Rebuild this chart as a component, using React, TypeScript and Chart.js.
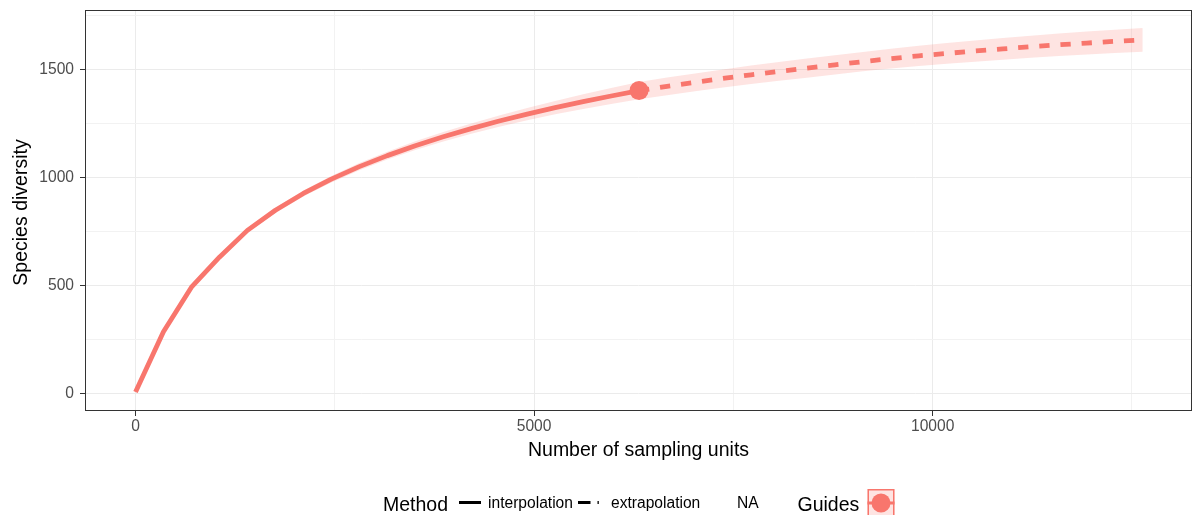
import { useEffect, useRef } from 'react';
import { Chart, registerables } from 'chart.js';

Chart.register(...registerables);

// Rarefaction (interpolated) part of the curve
const interpUnits = [1, 351, 702, 1053, 1404, 1755, 2106, 2457, 2808, 3159, 3510, 3861, 4212, 4563, 4914, 5265, 5616, 5967, 6317];
const interpDiversity = [6, 285, 491, 630, 754, 847, 925, 991, 1049, 1100, 1146, 1187, 1225, 1260, 1292, 1322, 1350, 1376, 1401];
const interpLower = [6, 280, 484, 621, 743, 835, 911, 976, 1032, 1082, 1126, 1165, 1201, 1234, 1264, 1291, 1316, 1339, 1361];
const interpUpper = [6, 290, 498, 639, 765, 859, 939, 1006, 1066, 1118, 1166, 1209, 1249, 1286, 1320, 1353, 1384, 1413, 1441];

// Extrapolated part of the curve, out to twice the observed sampling effort
const extrapUnits = [6317, 6668, 7019, 7370, 7721, 8072, 8423, 8774, 9125, 9476, 9827, 10178, 10529, 10880, 11231, 11582, 11933, 12284, 12635];
const extrapDiversity = [1401, 1421, 1439, 1457, 1474, 1490, 1505, 1520, 1535, 1549, 1562, 1573, 1584, 1594, 1604, 1613, 1621, 1629, 1636];
const extrapLower = [1361, 1380, 1398, 1415, 1431, 1447, 1461, 1475, 1490, 1503, 1515, 1525, 1535, 1544, 1553, 1561, 1568, 1575, 1581];
const extrapUpper = [1441, 1462, 1480, 1499, 1517, 1533, 1549, 1565, 1580, 1595, 1609, 1621, 1633, 1644, 1655, 1665, 1674, 1683, 1691];

// Observed reference sample
const observedUnits = 6317;
const observedDiversity = 1401;

// Grid / tick values
const xGridValues = [0, 2500, 5000, 7500, 10000, 12500];
const xLabelValues = [0, 5000, 10000];
const yGridValues = [0, 250, 500, 750, 1000, 1250, 1500, 1750];
const yLabelValues = [0, 500, 1000, 1500];

const xTitle = 'Number of sampling units';
const yTitle = 'Species diversity';
const methodTitle = 'Method';
const methodLabels = ['interpolation', 'extrapolation', 'NA'];
const guidesTitle = 'Guides';

const RED = '#F8766D';
const RIBBON = 'rgba(248,118,109,0.2)';
const FONT = '"Liberation Sans", Arial, Helvetica, sans-serif';

const pts = (xs: number[], ys: number[]) => xs.map((x, i) => ({ x, y: ys[i] }));

const decorations = {
  id: 'decorations',
  afterDraw(chart: any) {
    const { ctx, chartArea: a } = chart;
    ctx.save();

    // panel border
    ctx.strokeStyle = '#333333';
    ctx.lineWidth = 1;
    ctx.strokeRect(a.left + 0.5, a.top + 0.5, a.right - a.left - 1, a.bottom - a.top - 1);

    // axis titles
    ctx.fillStyle = '#000000';
    ctx.font = `19.5px ${FONT}`;
    ctx.textAlign = 'center';
    ctx.textBaseline = 'alphabetic';
    ctx.fillText(xTitle, (a.left + a.right) / 2, 456);
    ctx.save();
    ctx.translate(27, (a.top + a.bottom) / 2 + 2);
    ctx.rotate(-Math.PI / 2);
    ctx.fillText(yTitle, 0, 0);
    ctx.restore();

    // legend: Method
    ctx.textAlign = 'left';
    ctx.font = `19.5px ${FONT}`;
    ctx.fillText(methodTitle, 383, 511);
    ctx.fillStyle = '#000000';
    ctx.fillRect(459, 501, 22, 3);
    ctx.fillRect(578, 501, 12.5, 3);
    ctx.fillRect(597.5, 501, 1.3, 3);
    ctx.font = `15.6px ${FONT}`;
    ctx.fillText(methodLabels[0], 488, 508);
    ctx.fillText(methodLabels[1], 611, 508);
    ctx.fillText(methodLabels[2], 737, 508);

    // legend: Guides
    ctx.font = `19.5px ${FONT}`;
    ctx.fillText(guidesTitle, 797.5, 511);
    ctx.fillStyle = RIBBON;
    ctx.fillRect(867.5, 489, 27, 28);
    ctx.strokeStyle = RED;
    ctx.lineWidth = 1.5;
    ctx.strokeRect(868.25, 489.75, 25.5, 27);
    ctx.fillStyle = RED;
    ctx.fillRect(867.5, 501.5, 27, 3);
    ctx.beginPath();
    ctx.arc(881, 503, 9.5, 0, Math.PI * 2);
    ctx.fill();

    ctx.restore();
  },
};

export default function App() {
  const canvasRef = useRef<HTMLCanvasElement | null>(null);

  useEffect(() => {
    const canvas = canvasRef.current;
    if (!canvas) return;

    const ribbonLower = [...pts(interpUnits, interpLower), ...pts(extrapUnits, extrapLower).slice(1)];
    const ribbonUpper = [...pts(interpUnits, interpUpper), ...pts(extrapUnits, extrapUpper).slice(1)];

    const chart = new Chart(canvas, {
      type: 'line',
      data: {
        datasets: [
          {
            label: 'observed',
            data: [{ x: observedUnits, y: observedDiversity }],
            showLine: false,
            pointRadius: 9.5,
            pointBackgroundColor: RED,
            pointBorderWidth: 0,
            borderColor: RED,
            order: 0,
          },
          {
            label: 'interpolation',
            data: pts(interpUnits, interpDiversity),
            borderColor: RED,
            borderWidth: 4.8,
            borderJoinStyle: 'round',
            pointRadius: 0,
            tension: 0,
            fill: false,
            order: 1,
          },
          {
            label: 'extrapolation',
            data: pts(extrapUnits, extrapDiversity),
            borderColor: RED,
            borderWidth: 4.8,
            borderDash: [10.3, 10.9],
            borderJoinStyle: 'round',
            pointRadius: 0,
            tension: 0,
            fill: false,
            order: 1,
          },
          {
            label: 'lower',
            data: ribbonLower,
            borderWidth: 0,
            borderColor: 'rgba(0,0,0,0)',
            pointRadius: 0,
            tension: 0,
            fill: false,
            order: 2,
          },
          {
            label: 'upper',
            data: ribbonUpper,
            borderWidth: 0,
            borderColor: 'rgba(0,0,0,0)',
            backgroundColor: RIBBON,
            pointRadius: 0,
            tension: 0,
            fill: '-1',
            order: 2,
          },
        ],
      },
      options: {
        responsive: false,
        animation: false,
        events: [],
        layout: { autoPadding: false, padding: { top: 10, right: 1, left: 0, bottom: 0 } },
        plugins: {
          legend: { display: false },
          tooltip: { enabled: false },
        },
        scales: {
          x: {
            type: 'linear',
            min: -633,
            max: 13253,
            afterFit: (scale: any) => {
              scale.height = 104;
              scale.paddingLeft = 0;
              scale.paddingRight = 0;
              scale.paddingTop = 0;
              scale.paddingBottom = 0;
            },
            afterBuildTicks: (scale: any) => {
              scale.ticks = xGridValues.map((v) => ({ value: v }));
            },
            grid: {
              color: (c: any) => (xLabelValues.includes(c.tick?.value) ? '#EBEBEB' : '#F2F2F2'),
              lineWidth: 1,
              tickColor: (c: any) => (xLabelValues.includes(c.tick?.value) ? '#333333' : 'rgba(0,0,0,0)'),
              tickLength: 5,
              drawTicks: true,
            },
            border: { display: false },
            ticks: {
              autoSkip: false,
              maxRotation: 0,
              padding: 1,
              color: '#4D4D4D',
              font: { family: FONT, size: 15.6 },
              callback: (v: any) => (xLabelValues.includes(Number(v)) ? String(v) : ''),
            },
          },
          y: {
            type: 'linear',
            min: -82,
            max: 1774,
            afterFit: (scale: any) => {
              scale.width = 85;
              scale.paddingLeft = 0;
              scale.paddingRight = 0;
              scale.paddingTop = 0;
              scale.paddingBottom = 0;
            },
            afterBuildTicks: (scale: any) => {
              scale.ticks = yGridValues.map((v) => ({ value: v }));
            },
            grid: {
              color: (c: any) => (yLabelValues.includes(c.tick?.value) ? '#EBEBEB' : '#F2F2F2'),
              lineWidth: 1,
              tickColor: (c: any) => (yLabelValues.includes(c.tick?.value) ? '#333333' : 'rgba(0,0,0,0)'),
              tickLength: 5,
              drawTicks: true,
            },
            border: { display: false },
            ticks: {
              autoSkip: false,
              padding: 6,
              color: '#4D4D4D',
              font: { family: FONT, size: 15.6 },
              callback: (v: any) => (yLabelValues.includes(Number(v)) ? String(v) : ''),
            },
          },
        },
      },
      plugins: [decorations],
    } as any);

    return () => chart.destroy();
  }, []);

  return (
    <div style={{ position: 'fixed', left: 0, top: 0, width: 1193, height: 515, background: '#ffffff' }}>
      <canvas ref={canvasRef} width={1193} height={515} style={{ display: 'block' }} />
    </div>
  );
}
